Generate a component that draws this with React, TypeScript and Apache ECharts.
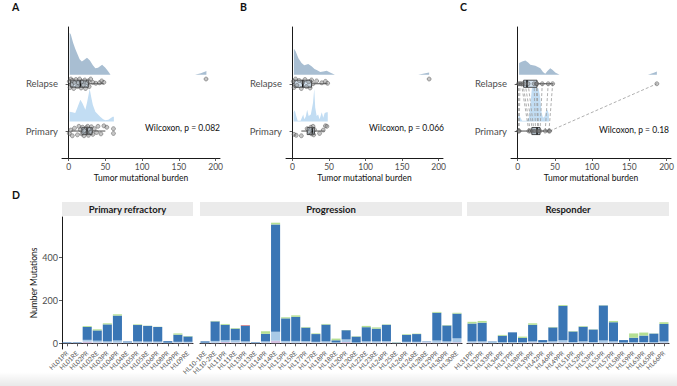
import React, { useEffect, useRef } from 'react';
import * as echarts from 'echarts';

const FONT = 'Lato, "Noto Sans", "DejaVu Sans", sans-serif';

// ---------------- Panels A–C : tumor mutational burden ----------------
const tmbTicks = [0, 50, 100, 150, 200];
const groupNames = ['Primary', 'Relapse']; // rows 1 and 2
const panelLetters = ['A', 'B', 'C', 'D'];
const wilcoxonLabels = ['Wilcoxon, p = 0.082', 'Wilcoxon, p = 0.066', 'Wilcoxon, p = 0.18'];
const tmbAxisTitle = 'Tumor mutational burden';

// points: [TMB, vertical jitter in row units]
const aRelapsePoints = [
  [1, 0.05], [2, -0.08], [3, 0.1], [4, -0.02], [5, 0.07], [7, -0.1], [8, 0.03], [10, 0.09],
  [12, -0.06], [13, 0.02], [15, 0.1], [17, -0.09], [18, 0.04], [20, -0.03], [22, 0.08],
  [23, -0.1], [25, 0.02], [27, 0.06], [28, -0.06], [30, 0.1], [33, 0.03], [37, 0.01],
  [42, 0.02], [45, 0.06], [48, 0.03], [187, 0.1],
];
const aPrimaryPoints = [
  [1, -0.05], [3, 0.02], [5, -0.1], [8, 0.06], [12, -0.08], [14, 0.1], [16, 0.03], [18, -0.06],
  [19, 0.08], [21, -0.1], [22, 0.01], [24, 0.07], [25, -0.04], [26, 0.1], [27, -0.09], [28, 0.04],
  [30, -0.02], [31, 0.09], [33, -0.07], [35, 0.05], [38, -0.03], [40, 0.1], [44, -0.06],
  [48, 0.11], [52, 0.08], [61, 0.05], [61, -0.05],
];
const bRelapsePoints = [
  [1, 0.05], [2, -0.08], [4, 0.1], [6, -0.03], [9, 0.07], [12, -0.1], [14, 0.03], [17, 0.09],
  [19, -0.06], [22, 0.04], [24, -0.09], [26, 0.08], [28, 0.0], [33, 0.06], [40, 0.02],
  [45, 0.05], [48, 0.01], [187, 0.1],
];
const bPrimaryPoints = [
  [2, -0.07], [5, -0.09], [12, -0.1], [20, 0.05], [23, -0.02], [25, 0.08], [26, -0.06],
  [28, 0.1], [29, -0.08], [30, 0.03], [37, -0.05], [42, 0.02], [45, 0.11], [47, 0.1],
];
// panel C: paired samples [primary TMB, relapse TMB]
const cPairs = [
  [1, 1], [2, 3], [15, 5], [17, 7], [20, 10], [22, 14], [24, 22], [27, 25], [28, 26],
  [30, 33], [37, 41], [42, 47], [43, 187],
];

// box stats: [lower whisker, q1, median, q3, upper whisker]
const aRelapseBox = [0.5, 2.5, 16, 27, 48];
const aPrimaryBox = [3, 18, 25, 32, 50];
const bRelapseBox = [1, 2, 14, 26, 48];
const bPrimaryBox = [12, 20, 27, 30, 44];
const cRelapseBox = [1, 8, 12.5, 26, 48];
const cPrimaryBox = [1, 19, 26, 30, 43];

// densities: [TMB, height in row units]
const aRelapseDensity = [
  [1.4, 0], [1.4, 0.89], [3, 0.85], [6, 0.68], [9, 0.55], [11.4, 0.46], [15, 0.33], [18, 0.28],
  [21, 0.31], [25, 0.36], [29, 0.3], [33, 0.2], [36.4, 0.14], [40, 0.15], [45.6, 0.21],
  [50, 0.15], [54, 0.07], [57, 0], [172, 0], [180, 0.03], [186, 0.07], [187.5, 0.08], [187.5, 0],
];
const aPrimaryDensity = [
  [1.4, 0], [1.4, 0.21], [5, 0.2], [9, 0.18], [12, 0.3], [16, 0.46], [19, 0.38], [22.8, 0.25],
  [25, 0.4], [28.7, 0.69], [31, 0.5], [33, 0.35], [36.4, 0.21], [40, 0.15], [43, 0.1],
  [47, 0.05], [50, 0.03], [54, 0.04], [57, 0.07], [60, 0.1], [61.6, 0.1], [61.6, 0],
];
const bRelapseDensity = [
  [1.8, 0], [1.8, 0.55], [4, 0.5], [8, 0.35], [12.3, 0.25], [16, 0.2], [21.5, 0.23], [26, 0.18],
  [30, 0.12], [33, 0.1], [38, 0.06], [42, 0.07], [46.7, 0.085], [52, 0.04], [58, 0],
  [172, 0], [182, 0.03], [187, 0.05], [187, 0],
];
const bPrimaryDensity = [
  [1.5, 0], [1.5, 0.2], [3, 0.24], [5, 0.12], [7, 0.02], [11, 0.02], [14.6, 0.15], [16, 0.05],
  [18, 0.1], [20, 0.25], [22, 0.12], [25, 0.15], [28, 0.4], [29.7, 0.7], [31, 0.3], [33, 0.12],
  [35, 0.15], [37, 0.05], [40, 0.2], [42, 0.08], [44, 0.18], [46.7, 0.2], [48.2, 0.2], [48.2, 0],
];
const cRelapseDensity = [
  [1.9, 0], [1.9, 0.25], [6, 0.28], [10.3, 0.3], [14, 0.26], [17, 0.21], [23.7, 0.19],
  [30.4, 0.14], [34, 0.06], [37, 0.02], [40, 0.08], [43.8, 0.14], [47, 0.1], [50.5, 0.05],
  [56.2, 0], [175, 0], [183, 0.04], [187, 0.07], [187, 0],
];
const cPrimaryDensity = [
  [1, 0], [1, 0.17], [3, 0.1], [6, 0.02], [12, 0.02], [15, 0.08], [17, 0.35], [19, 0.7],
  [22, 0.75], [25, 0.72], [28, 0.7], [30, 0.55], [32, 0.2], [34, 0.08], [36, 0.1], [38, 0.22],
  [40, 0.25], [42, 0.15], [42, 0],
];

// ---------------- Panel D : mutations per sample ----------------
const facetNames = ['Primary refractory', 'Progression', 'Responder'];
const mutationTicks = [0, 200, 400];
const mutationAxisTitle = 'Number Mutations';

const refractorySamples = ['HL01PR', 'HL01RE', 'HL02PR', 'HL02RE', 'HL03PR', 'HL04PR', 'HL04RE',
  'HL05PR', 'HL05RE', 'HL06PR', 'HL08PR', 'HL09PR', 'HL09RE'];
const progressionSamples = ['HL10-1RE', 'HL10-2RE', 'HL11PR', 'HL11RE', 'HL13PR', 'HL13RE',
  'HL14PR', 'HL14RE', 'HL15PR', 'HL15RE', 'HL17PR', 'HL17RE', 'HL18PR', 'HL18RE', 'HL20PR',
  'HL20RE', 'HL22RE', 'HL23RE', 'HL24PR', 'HL25RE', 'HL26PR', 'HL26RE', 'HL28RE', 'HL29PR',
  'HL30PR', 'HL30RE'];
const responderSamples = ['HL31PR', 'HL32PR', 'HL33PR', 'HL34PR', 'HL37PR', 'HL38PR', 'HL39PR',
  'HL42PR', 'HL46PR', 'HL49PR', 'HL51PR', 'HL52PR', 'HL53PR', 'HL55PR', 'HL57PR', 'HL58PR',
  'HL59PR', 'HL63PR', 'HL65PR', 'HL66PR'];

// mutation classes (bottom to top): lavender, light blue, blue, red, green
const refractoryLavender = [1, 1, 8, 4, 3, 3, 1, 3, 3, 3, 1, 3, 3];
const refractoryLightBlue = [3, 2, 8, 8, 6, 10, 4, 6, 5, 5, 2, 4, 4];
const refractoryBlue = [2, 2, 60, 48, 79, 116, 3, 76, 73, 68, 7, 33, 25];
const refractoryRed = [0, 0, 0, 0, 0, 0, 0, 0, 0, 0, 0, 0, 0];
const refractoryGreen = [0, 0, 4, 5, 5, 6, 0, 3, 1, 1, 0, 6, 2];

const progressionLavender = [1, 3, 6, 4, 3, 1, 3, 12, 3, 3, 4, 3, 3, 2, 6, 1, 3, 3, 4, 1, 3, 3, 4, 3, 3, 5];
const progressionLightBlue = [2, 8, 8, 10, 6, 3, 6, 42, 8, 8, 6, 4, 6, 2, 12, 3, 6, 6, 6, 4, 4, 4, 2, 10, 6, 18];
const progressionBlue = [6, 91, 72, 54, 73, 2, 35, 499, 105, 112, 63, 36, 78, 10, 43, 27, 66, 59, 76, 0, 32, 36, 2, 129, 74, 115];
const progressionRed = [0, 0, 0, 0, 3, 0, 0, 0, 0, 0, 0, 0, 0, 0, 0, 0, 0, 0, 0, 0, 0, 0, 0, 0, 0, 0];
const progressionGreen = [0, 2, 4, 3, 0, 0, 12, 8, 5, 7, 3, 3, 3, 8, 1, 2, 6, 6, 2, 1, 3, 2, 0, 4, 2, 4];

const responderLavender = [3, 3, 1, 2, 2, 2, 4, 2, 3, 4, 2, 3, 2, 3, 3, 1, 2, 2, 2, 3];
const responderLightBlue = [6, 6, 5, 3, 3, 3, 5, 3, 6, 10, 4, 6, 4, 10, 6, 3, 3, 4, 3, 6];
const responderBlue = [83, 87, 2, 30, 46, 20, 77, 10, 65, 160, 49, 68, 58, 163, 89, 11, 21, 30, 40, 81];
const responderRed = [0, 0, 0, 0, 0, 0, 0, 0, 0, 0, 0, 0, 0, 0, 0, 0, 0, 0, 0, 0];
const responderGreen = [8, 8, 0, 4, 0, 6, 7, 0, 2, 4, 2, 3, 1, 1, 6, 0, 20, 14, 1, 8];

// ---------------- styling / layout ----------------
const RELAPSE_FILL = '#a8bed2';
const PRIMARY_FILL = '#c2ddf3';
const CLASS_COLORS = ['#d6c2e1', '#a9cae7', '#3a76b5', '#e06a6a', '#b5df93'];
const TOP_PANELS = [
  { left: 62, width: 158 },
  { left: 286, width: 157 },
  { left: 511, width: 160 },
];
const TOP_Y = 27;
const TOP_H = 131;
const FACETS = [
  { left: 62, width: 131 },
  { left: 200, width: 262 },
  { left: 467, width: 202 },
];
const BOT_Y = 217;
const BOT_H = 132;

export default function App() {
  const ref = useRef<HTMLDivElement>(null);

  useEffect(() => {
    if (!ref.current) return;
    const chart = echarts.init(ref.current, null, { renderer: 'svg' });

    const panelData = [
      { rel: aRelapsePoints, pri: aPrimaryPoints, relD: aRelapseDensity, priD: aPrimaryDensity, relB: aRelapseBox, priB: aPrimaryBox },
      { rel: bRelapsePoints, pri: bPrimaryPoints, relD: bRelapseDensity, priD: bPrimaryDensity, relB: bRelapseBox, priB: bPrimaryBox },
      {
        rel: cPairs.map((p) => [p[1], 0]), pri: cPairs.map((p) => [p[0], 0]),
        relD: cRelapseDensity, priD: cPrimaryDensity, relB: cRelapseBox, priB: cPrimaryBox,
      },
    ];

    const grids: any[] = [];
    const xAxes: any[] = [];
    const yAxes: any[] = [];
    const series: any[] = [];

    const densitySeries = (idx: number, dens: number[][], base: number, color: string) => ({
      type: 'custom', xAxisIndex: idx, yAxisIndex: idx, silent: true, z: 1,
      data: dens.map((d) => [d[0], base + d[1]]),
      renderItem: (params: any, api: any) => {
        if (params.dataIndex !== 0) return null;
        const pts = dens.map((d) => api.coord([d[0], base + d[1]]));
        pts.push(api.coord([dens[dens.length - 1][0], base]));
        pts.push(api.coord([dens[0][0], base]));
        return { type: 'polygon', shape: { points: pts }, style: { fill: color, stroke: 'none' } };
      },
    });

    const boxSeries = (idx: number, stats: number[], row: number, fill: string) => ({
      type: 'custom', xAxisIndex: idx, yAxisIndex: idx, silent: true, z: 3,
      data: [[...stats, row]],
      renderItem: (params: any, api: any) => {
        const v = [0, 1, 2, 3, 4].map((i) => api.value(i));
        const r = api.value(5);
        const h = 0.075;
        const pMin = api.coord([v[0], r]);
        const pQ1 = api.coord([v[1], r]);
        const pMed = api.coord([v[2], r]);
        const pQ3 = api.coord([v[3], r]);
        const pMax = api.coord([v[4], r]);
        const top = api.coord([v[1], r + h])[1];
        const bot = api.coord([v[1], r - h])[1];
        const st = { stroke: '#222', lineWidth: 0.8 };
        return {
          type: 'group',
          children: [
            { type: 'line', shape: { x1: pMin[0], y1: pMin[1], x2: pQ1[0], y2: pQ1[1] }, style: st },
            { type: 'line', shape: { x1: pQ3[0], y1: pQ3[1], x2: pMax[0], y2: pMax[1] }, style: st },
            { type: 'rect', shape: { x: pQ1[0], y: top, width: pQ3[0] - pQ1[0], height: bot - top }, style: { fill, stroke: '#222', lineWidth: 0.8 } },
            { type: 'line', shape: { x1: pMed[0], y1: top, x2: pMed[0], y2: bot }, style: { stroke: '#111', lineWidth: 1.6 } },
          ],
        };
      },
    });

    const pointStyle = { color: 'rgba(125,125,125,0.55)', borderColor: 'rgba(60,60,60,0.85)', borderWidth: 0.6 };

    TOP_PANELS.forEach((p, i) => {
      grids.push({ left: p.left, top: TOP_Y, width: p.width, height: TOP_H });
      xAxes.push({
        type: 'value', gridIndex: i, min: -9, max: 206,
        name: tmbAxisTitle, nameLocation: 'middle', nameGap: 15,
        nameTextStyle: { fontFamily: FONT, fontSize: 8.5, color: '#111' },
        axisLine: { show: true, lineStyle: { color: '#000', width: 0.9 } },
        axisTick: { show: true, length: 3, customValues: tmbTicks, lineStyle: { color: '#333', width: 0.8 } },
        axisLabel: { customValues: tmbTicks, fontFamily: FONT, fontSize: 8.5, color: '#4d4d4d', margin: 4 },
        splitLine: { show: false },
      });
      yAxes.push({
        type: 'value', gridIndex: i, min: 0.43, max: 3.2,
        axisLine: { show: true, lineStyle: { color: '#000', width: 0.9 } },
        axisTick: { show: true, length: 3, customValues: [1, 2], lineStyle: { color: '#333', width: 0.8 } },
        axisLabel: {
          customValues: [1, 2], fontFamily: FONT, fontSize: 9.5, color: '#4d4d4d', margin: 4,
          formatter: (v: number) => groupNames[Math.round(v) - 1] || '',
        },
        splitLine: { show: false },
      });
      const d = panelData[i];
      series.push(densitySeries(i, d.relD, 2.19, RELAPSE_FILL));
      series.push(densitySeries(i, d.priD, 1.2, PRIMARY_FILL));
      if (i === 2) {
        series.push({
          type: 'custom', xAxisIndex: 2, yAxisIndex: 2, silent: true, z: 2,
          data: cPairs,
          renderItem: (params: any, api: any) => {
            const a = api.coord([api.value(0), 1]);
            const b = api.coord([api.value(1), 2]);
            return {
              type: 'line', shape: { x1: a[0], y1: a[1], x2: b[0], y2: b[1] },
              style: { stroke: '#9a9a9a', lineWidth: 0.8, lineDash: [3, 2] },
            };
          },
        });
      }
      series.push(boxSeries(i, d.relB, 2, '#d3e2ef'));
      series.push(boxSeries(i, d.priB, 1, '#d3e2ef'));
      series.push({
        type: 'scatter', xAxisIndex: i, yAxisIndex: i, silent: true, z: 4, symbolSize: 4,
        itemStyle: pointStyle, data: d.rel.map((q) => [q[0], 2 + q[1]]),
      });
      series.push({
        type: 'scatter', xAxisIndex: i, yAxisIndex: i, silent: true, z: 4, symbolSize: 4,
        itemStyle: pointStyle, data: d.pri.map((q) => [q[0], 1 + q[1]]),
      });
    });

    const facetData = [
      { cats: refractorySamples, parts: [refractoryLavender, refractoryLightBlue, refractoryBlue, refractoryRed, refractoryGreen] },
      { cats: progressionSamples, parts: [progressionLavender, progressionLightBlue, progressionBlue, progressionRed, progressionGreen] },
      { cats: responderSamples, parts: [responderLavender, responderLightBlue, responderBlue, responderRed, responderGreen] },
    ];

    FACETS.forEach((f, k) => {
      const gi = 3 + k;
      grids.push({ left: f.left, top: BOT_Y, width: f.width, height: BOT_H });
      xAxes.push({
        type: 'category', gridIndex: gi, data: facetData[k].cats,
        axisLine: { show: true, lineStyle: { color: '#000', width: 0.9 } },
        axisTick: { show: true, length: 3, alignWithLabel: true, lineStyle: { color: '#333', width: 0.8 } },
        axisLabel: { interval: 0, rotate: 45, fontFamily: FONT, fontSize: 6.5, color: '#555', margin: 3 },
        splitLine: { show: false },
      });
      yAxes.push({
        type: 'value', gridIndex: gi, min: -26.5, max: 587.5, show: k === 0,
        name: k === 0 ? mutationAxisTitle : '', nameLocation: 'middle', nameGap: 23, nameRotate: 90,
        nameTextStyle: { fontFamily: FONT, fontSize: 8.5, color: '#111' },
        axisLine: { show: true, lineStyle: { color: '#000', width: 0.9 } },
        axisTick: { show: true, length: 3, customValues: mutationTicks, lineStyle: { color: '#333', width: 0.8 } },
        axisLabel: { customValues: mutationTicks, fontFamily: FONT, fontSize: 9, color: '#4d4d4d', margin: 4 },
        splitLine: { show: false },
      });
      facetData[k].parts.forEach((vals, c) => {
        series.push({
          type: 'bar', xAxisIndex: gi, yAxisIndex: gi, stack: 'facet' + k, silent: true,
          barCategoryGap: '10%', data: vals, itemStyle: { color: CLASS_COLORS[c] },
        });
      });
    });

    const txt = (x: number, y: number, text: string, font: string, align = 'left', fill = '#111') => ({
      type: 'text', x, y, silent: true, z: 50,
      style: { text, font, fill, textAlign: align, align, textVerticalAlign: 'middle', verticalAlign: 'middle' },
    });

    const graphics: any[] = [
      txt(12, 6.5, panelLetters[0], `bold 10.5px ${FONT}`),
      txt(240, 6.5, panelLetters[1], `bold 10.5px ${FONT}`),
      txt(460, 6.5, panelLetters[2], `bold 10.5px ${FONT}`),
      txt(12, 195, panelLetters[3], `bold 10.5px ${FONT}`),
      txt(220, 128, wilcoxonLabels[0], `8.5px ${FONT}`, 'right'),
      txt(444, 128, wilcoxonLabels[1], `8.5px ${FONT}`, 'right'),
      txt(669, 130, wilcoxonLabels[2], `8.5px ${FONT}`, 'right'),
    ];
    FACETS.forEach((f, k) => {
      graphics.push({
        type: 'rect', silent: true, z: 40,
        shape: { x: f.left, y: 202, width: f.width, height: 14 },
        style: { fill: '#ebebeb' },
      });
      graphics.push(txt(f.left + f.width / 2, 209, facetNames[k], `bold 9.5px ${FONT}`, 'center', '#1a1a1a'));
    });
    graphics.push({
      type: 'rect', silent: true, z: 60,
      shape: { x: 0, y: 372, width: 677, height: 14 },
      style: {
        fill: new echarts.graphic.LinearGradient(0, 0, 0, 1, [
          { offset: 0, color: 'rgba(0,0,0,0)' },
          { offset: 1, color: 'rgba(0,0,0,0.09)' },
        ]),
      },
    });

    chart.setOption({
      animation: false,
      backgroundColor: '#ffffff',
      textStyle: { fontFamily: FONT },
      grid: grids,
      xAxis: xAxes,
      yAxis: yAxes,
      series,
      graphic: graphics,
    });

    return () => chart.dispose();
  }, []);

  return (
    <div
      ref={ref}
      style={{ position: 'fixed', left: 0, top: 0, width: 677, height: 386, background: '#fff' }}
    />
  );
}
